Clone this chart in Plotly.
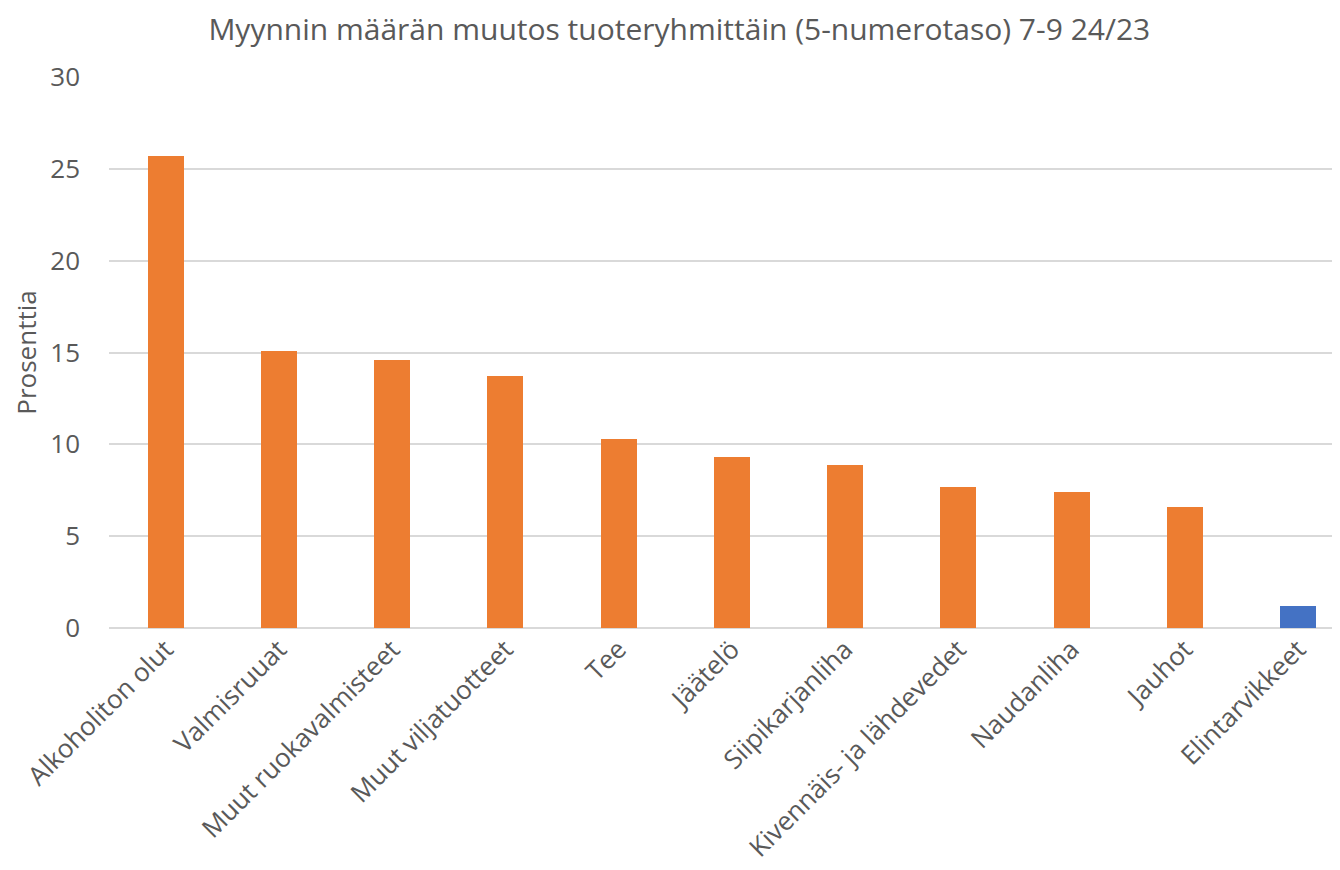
import plotly.graph_objects as go

categories = ["Alkoholiton olut", "Valmisruuat", "Muut ruokavalmisteet", "Muut viljatuotteet",
              "Tee", "Jäätelö", "Siipikarjanliha", "Kivennäis- ja lähdevedet",
              "Naudanliha", "Jauhot", "Elintarvikkeet"]
values = [25.7, 15.1, 14.6, 13.7, 10.3, 9.3, 8.9, 7.7, 7.4, 6.6, 1.2]
bar_colors = ["#ED7D31"] * 10 + ["#4472C4"]
y_ticks = [0, 5, 10, 15, 20, 25, 30]

font_family = "Open Sans, Noto Sans, sans-serif"
text_color = "#595959"

fig = go.Figure(go.Bar(
    x=list(range(len(categories))),
    y=values,
    marker=dict(color=bar_colors, line=dict(width=0)),
    width=0.318,
))

fig.update_layout(
    width=1332, height=862,
    margin=dict(l=101, r=0, t=69, b=242),
    paper_bgcolor="white", plot_bgcolor="white",
    font=dict(family=font_family, color=text_color, size=26),
    title=dict(text="Myynnin määrän muutos tuoteryhmittäin (5-numerotaso) 7-9 24/23",
               x=0.504, xref="container", xanchor="center",
               y=0.975, yref="container", yanchor="middle",
               font=dict(size=30, color=text_color, family=font_family)),
    showlegend=False,
    bargap=0,
)
fig.update_xaxes(
    tickmode="array", tickvals=list(range(len(categories))), ticktext=categories,
    tickangle=-45, range=[-0.5, 10.37], showgrid=False, showline=False,
    ticks="", tickfont=dict(size=26, color=text_color),
)
fig.update_yaxes(
    range=[0, 30], tickvals=y_ticks, showgrid=True, gridcolor="#D9D9D9", gridwidth=2,
    zeroline=True, zerolinecolor="#D9D9D9", zerolinewidth=2,
    ticks="", ticklabelstandoff=28, tickfont=dict(size=26, color=text_color),
    title=dict(text="Prosenttia", font=dict(size=26, color=text_color), standoff=8),
)

fig.write_html("out.html")
